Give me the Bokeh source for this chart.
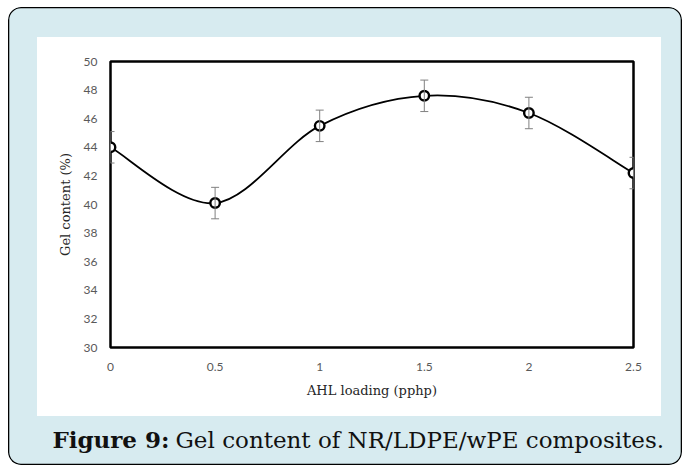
from bokeh.plotting import figure
from bokeh.models import (Range1d, FixedTicker, Whisker, ColumnDataSource,
                          Label, TeeHead)
from bokeh.embed import file_html
from bokeh.resources import INLINE

# Gel content versus AHL loading
ahl_loading = [0, 0.5, 1, 1.5, 2, 2.5]
gel_content = [44.0, 40.1, 45.5, 47.6, 46.4, 42.2]
gel_error = [1.1, 1.1, 1.1, 1.1, 1.1, 1.1]

x_tick_values = [0, 0.5, 1, 1.5, 2, 2.5]
x_tick_labels = ["0", "0.5", "1", "1.5", "2", "2.5"]
y_tick_values = [30, 32, 34, 36, 38, 40, 42, 44, 46, 48, 50]

caption_head = "Figure 9:"
caption_body = "Gel content of NR/LDPE/wPE composites."

TICK_FONT = "Lato"
SERIF = "DejaVu Serif"

# the figure is the light blue card; its canvas is transparent so the
# card colour and the white chart panel come from the element's CSS
CARD_W, CARD_H = 674, 458
p = figure(width=CARD_W, height=CARD_H, x_range=Range1d(0, 2.5), y_range=Range1d(30, 50),
           output_backend="svg", toolbar_location=None,
           min_border_left=102, min_border_right=49,
           min_border_top=54, min_border_bottom=118,
           margin=(7, 2, 1, 8))
p.styles = {
    "background": "linear-gradient(#ffffff, #ffffff) 29px 30px / 624px 379px no-repeat, #d7ebf0",
    "border-radius": "13px",
    "box-shadow": "inset 0 0 0 1.3px #000000",
}
p.border_fill_color = None
p.background_fill_color = "white"
p.outline_line_color = "black"
p.outline_line_width = 2.5
p.grid.visible = False

# axes
for ax in (p.xaxis[0], p.yaxis[0]):
    ax.axis_line_color = None
    ax.major_tick_line_color = None
    ax.minor_tick_line_color = None
    ax.major_label_text_font = TICK_FONT
    ax.major_label_text_font_size = "12px"
    ax.major_label_text_color = "#595959"
    ax.axis_label_text_font = SERIF
    ax.axis_label_text_font_size = "13px"
    ax.axis_label_text_font_style = "normal"
    ax.axis_label_text_color = "#262626"

p.xaxis.ticker = FixedTicker(ticks=x_tick_values)
p.xaxis.major_label_overrides = {v: s for v, s in zip(x_tick_values, x_tick_labels)}
p.xaxis.major_label_standoff = 9
p.xaxis.axis_label = "AHL loading (pphp)"
p.xaxis.axis_label_standoff = 9

p.yaxis.ticker = FixedTicker(ticks=y_tick_values)
p.yaxis.major_label_standoff = 7
p.yaxis.axis_label = "Gel content (%)"
p.yaxis.axis_label_standoff = 8


def smooth_segments(xs, ys):
    """Cubic Bezier pieces (Catmull-Rom style) passing through every point."""
    n = len(xs)
    seg = {k: [] for k in ("x0", "y0", "x1", "y1", "cx0", "cy0", "cx1", "cy1")}
    for i in range(n - 1):
        a = max(i - 1, 0)
        b = min(i + 2, n - 1)
        seg["x0"].append(xs[i]); seg["y0"].append(ys[i])
        seg["x1"].append(xs[i + 1]); seg["y1"].append(ys[i + 1])
        seg["cx0"].append(xs[i] + (xs[i + 1] - xs[a]) / 6)
        seg["cy0"].append(ys[i] + (ys[i + 1] - ys[a]) / 6)
        seg["cx1"].append(xs[i + 1] - (xs[b] - xs[i]) / 6)
        seg["cy1"].append(ys[i + 1] - (ys[b] - ys[i]) / 6)
    return seg


curve = ColumnDataSource(smooth_segments(ahl_loading, gel_content))
p.bezier(x0="x0", y0="y0", x1="x1", y1="y1", cx0="cx0", cy0="cy0",
         cx1="cx1", cy1="cy1", source=curve, line_color="black", line_width=1.8)

src = ColumnDataSource(dict(
    x=ahl_loading, y=gel_content,
    lower=[v - e for v, e in zip(gel_content, gel_error)],
    upper=[v + e for v, e in zip(gel_content, gel_error)],
))
p.add_layout(Whisker(base="x", lower="lower", upper="upper", source=src,
                     line_color="#808080", line_width=1,
                     upper_head=TeeHead(size=8, line_color="#808080", line_width=1),
                     lower_head=TeeHead(size=8, line_color="#808080", line_width=1),
                     level="glyph"))
p.scatter(x="x", y="y", source=src, size=9.5, marker="circle",
          fill_color="white", line_color="black", line_width=2.4)

# caption under the chart panel (kept in the bottom side panel so it is
# drawn outside the plotting frame)
p.add_layout(Label(x=161, y=432, x_units="canvas", y_units="canvas",
                   text=caption_head, text_font=SERIF, text_font_size="23px",
                   text_font_style="bold", text_color="#111111",
                   text_align="right", text_baseline="alphabetic"), "below")
p.add_layout(Label(x=167, y=432, x_units="canvas", y_units="canvas",
                   text=caption_body, text_font=SERIF, text_font_size="23px",
                   text_color="#111111", text_align="left",
                   text_baseline="alphabetic"), "below")

open("out.html", "w").write(file_html(p, INLINE))
